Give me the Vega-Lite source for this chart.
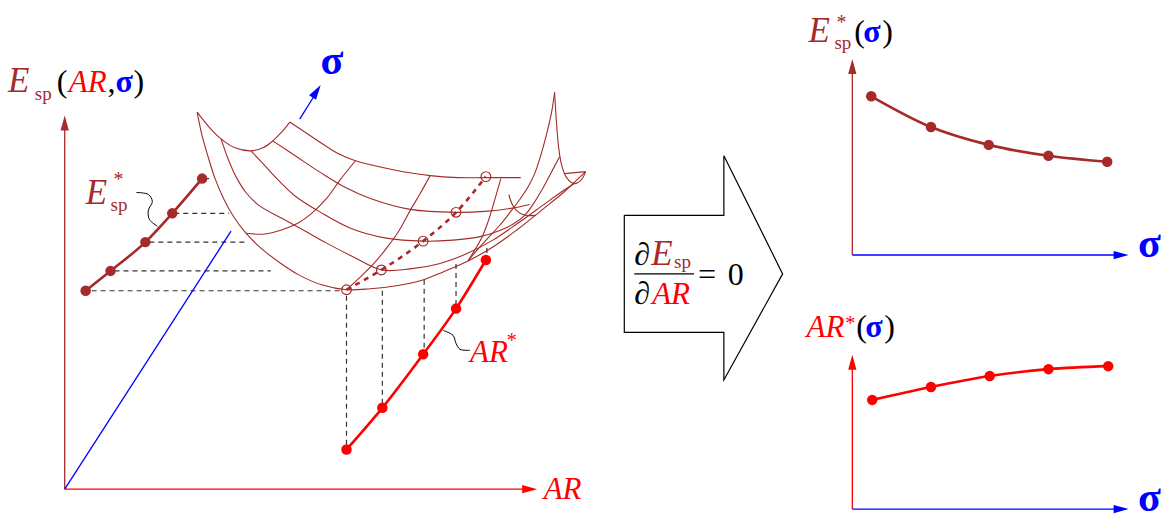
{
  "$schema": "https://vega.github.io/schema/vega-lite/v6.json",
  "width": 1161,
  "height": 519,
  "padding": 0,
  "autosize": {"type": "fit", "contains": "padding"},
  "background": "white",
  "config": {"view": {"stroke": null}},
  "datasets": {
    "axes": [
      {"id": "lv", "var": "E", "k": 1, "x": 65, "y": 493}, {"id": "lv", "var": "E", "k": 2, "x": 65, "y": 130},
      {"id": "lh", "var": "AR", "k": 1, "x": 65, "y": 493}, {"id": "lh", "var": "AR", "k": 2, "x": 526, "y": 493},
      {"id": "ld", "var": "sigma", "k": 1, "x": 65, "y": 493}, {"id": "ld", "var": "sigma", "k": 2, "x": 232, "y": 233},
      {"id": "sa", "var": "sigma", "k": 1, "x": 301, "y": 120}, {"id": "sa", "var": "sigma", "k": 2, "x": 316, "y": 96},
      {"id": "tv", "var": "E", "k": 1, "x": 856, "y": 257}, {"id": "tv", "var": "E", "k": 2, "x": 856, "y": 72},
      {"id": "th", "var": "sigma", "k": 1, "x": 856, "y": 257}, {"id": "th", "var": "sigma", "k": 2, "x": 1120, "y": 257},
      {"id": "bv", "var": "AR", "k": 1, "x": 856, "y": 513}, {"id": "bv", "var": "AR", "k": 2, "x": 856, "y": 370},
      {"id": "bh", "var": "sigma", "k": 1, "x": 856, "y": 513}, {"id": "bh", "var": "sigma", "k": 2, "x": 1120, "y": 513}
    ],
    "heads": [
      {"var": "E", "x": 65, "y": 124, "dir": 0},
      {"var": "AR", "x": 532, "y": 493, "dir": 90},
      {"var": "sigma", "x": 318, "y": 92, "dir": 33},
      {"var": "E", "x": 856, "y": 67, "dir": 0},
      {"var": "sigma", "x": 1126, "y": 257, "dir": 90},
      {"var": "AR", "x": 856, "y": 365, "dir": 0},
      {"var": "sigma", "x": 1126, "y": 513, "dir": 90}
    ],
    "surface": [
      {"id": "P0", "k": 1, "x": 198, "y": 113}, {"id": "P0", "k": 2, "x": 203, "y": 137}, {"id": "P0", "k": 3, "x": 209, "y": 158}, {"id": "P0", "k": 4, "x": 216, "y": 180}, {"id": "P0", "k": 5, "x": 225, "y": 201}, {"id": "P0", "k": 6, "x": 235, "y": 219}, {"id": "P0", "k": 7, "x": 247, "y": 235}, {"id": "P0", "k": 8, "x": 262, "y": 250}, {"id": "P0", "k": 9, "x": 280, "y": 264}, {"id": "P0", "k": 10, "x": 300, "y": 277}, {"id": "P0", "k": 11, "x": 323, "y": 287}, {"id": "P0", "k": 12, "x": 348, "y": 292}, {"id": "P0", "k": 13, "x": 372, "y": 291}, {"id": "P0", "k": 14, "x": 398, "y": 288}, {"id": "P0", "k": 15, "x": 422, "y": 283}, {"id": "P0", "k": 16, "x": 445, "y": 274}, {"id": "P0", "k": 17, "x": 470, "y": 263}, {"id": "P0", "k": 18, "x": 495, "y": 249}, {"id": "P0", "k": 19, "x": 520, "y": 231}, {"id": "P0", "k": 20, "x": 545, "y": 211}, {"id": "P0", "k": 21, "x": 567, "y": 193}, {"id": "P0", "k": 22, "x": 588, "y": 173},
      {"id": "P1", "k": 1, "x": 222, "y": 140}, {"id": "P1", "k": 2, "x": 229, "y": 160}, {"id": "P1", "k": 3, "x": 237, "y": 178}, {"id": "P1", "k": 4, "x": 247, "y": 194}, {"id": "P1", "k": 5, "x": 260, "y": 207}, {"id": "P1", "k": 6, "x": 283, "y": 220}, {"id": "P1", "k": 7, "x": 305, "y": 232}, {"id": "P1", "k": 8, "x": 328, "y": 245}, {"id": "P1", "k": 9, "x": 355, "y": 259}, {"id": "P1", "k": 10, "x": 383, "y": 272}, {"id": "P1", "k": 11, "x": 412, "y": 271}, {"id": "P1", "k": 12, "x": 440, "y": 266}, {"id": "P1", "k": 13, "x": 468, "y": 256}, {"id": "P1", "k": 14, "x": 495, "y": 242}, {"id": "P1", "k": 15, "x": 520, "y": 225}, {"id": "P1", "k": 16, "x": 545, "y": 207}, {"id": "P1", "k": 17, "x": 563, "y": 194}, {"id": "P1", "k": 18, "x": 577, "y": 185},
      {"id": "P2", "k": 1, "x": 252, "y": 152}, {"id": "P2", "k": 2, "x": 266, "y": 167}, {"id": "P2", "k": 3, "x": 281, "y": 183}, {"id": "P2", "k": 4, "x": 297, "y": 198}, {"id": "P2", "k": 5, "x": 322, "y": 214}, {"id": "P2", "k": 6, "x": 352, "y": 230}, {"id": "P2", "k": 7, "x": 388, "y": 240}, {"id": "P2", "k": 8, "x": 425, "y": 243}, {"id": "P2", "k": 9, "x": 455, "y": 242}, {"id": "P2", "k": 10, "x": 480, "y": 239}, {"id": "P2", "k": 11, "x": 500, "y": 233}, {"id": "P2", "k": 12, "x": 515, "y": 226}, {"id": "P2", "k": 13, "x": 527, "y": 217}, {"id": "P2", "k": 14, "x": 536, "y": 205}, {"id": "P2", "k": 15, "x": 545, "y": 190}, {"id": "P2", "k": 16, "x": 553, "y": 175}, {"id": "P2", "k": 17, "x": 562, "y": 158},
      {"id": "P3", "k": 1, "x": 274, "y": 142}, {"id": "P3", "k": 2, "x": 298, "y": 158}, {"id": "P3", "k": 3, "x": 322, "y": 174}, {"id": "P3", "k": 4, "x": 345, "y": 188}, {"id": "P3", "k": 5, "x": 372, "y": 200}, {"id": "P3", "k": 6, "x": 412, "y": 211}, {"id": "P3", "k": 7, "x": 458, "y": 214}, {"id": "P3", "k": 8, "x": 487, "y": 213}, {"id": "P3", "k": 9, "x": 513, "y": 210}, {"id": "P3", "k": 10, "x": 532, "y": 206},
      {"id": "P4", "k": 1, "x": 291, "y": 123}, {"id": "P4", "k": 2, "x": 315, "y": 139}, {"id": "P4", "k": 3, "x": 340, "y": 155}, {"id": "P4", "k": 4, "x": 357, "y": 162}, {"id": "P4", "k": 5, "x": 395, "y": 171}, {"id": "P4", "k": 6, "x": 432, "y": 177}, {"id": "P4", "k": 7, "x": 460, "y": 179}, {"id": "P4", "k": 8, "x": 488, "y": 179}, {"id": "P4", "k": 9, "x": 523, "y": 179},
      {"id": "P4t", "k": 1, "x": 567, "y": 175}, {"id": "P4t", "k": 2, "x": 588, "y": 173},
      {"id": "VE", "k": 1, "x": 198, "y": 113}, {"id": "VE", "k": 2, "x": 210, "y": 128}, {"id": "VE", "k": 3, "x": 222, "y": 140}, {"id": "VE", "k": 4, "x": 236, "y": 149}, {"id": "VE", "k": 5, "x": 252, "y": 152}, {"id": "VE", "k": 6, "x": 264, "y": 149}, {"id": "VE", "k": 7, "x": 274, "y": 142}, {"id": "VE", "k": 8, "x": 283, "y": 133}, {"id": "VE", "k": 9, "x": 291, "y": 123},
      {"id": "RE", "k": 1, "x": 557, "y": 93}, {"id": "RE", "k": 2, "x": 559, "y": 125}, {"id": "RE", "k": 3, "x": 561, "y": 148}, {"id": "RE", "k": 4, "x": 564, "y": 166}, {"id": "RE", "k": 5, "x": 569, "y": 179}, {"id": "RE", "k": 6, "x": 577, "y": 185}, {"id": "RE", "k": 7, "x": 584, "y": 181}, {"id": "RE", "k": 8, "x": 588, "y": 173},
      {"id": "C1", "k": 1, "x": 247, "y": 235}, {"id": "C1", "k": 2, "x": 264, "y": 236}, {"id": "C1", "k": 3, "x": 282, "y": 232}, {"id": "C1", "k": 4, "x": 299, "y": 225}, {"id": "C1", "k": 5, "x": 313, "y": 215}, {"id": "C1", "k": 6, "x": 328, "y": 200}, {"id": "C1", "k": 7, "x": 341, "y": 182}, {"id": "C1", "k": 8, "x": 357, "y": 162},
      {"id": "C2", "k": 1, "x": 348, "y": 292}, {"id": "C2", "k": 2, "x": 362, "y": 279}, {"id": "C2", "k": 3, "x": 376, "y": 265}, {"id": "C2", "k": 4, "x": 389, "y": 249}, {"id": "C2", "k": 5, "x": 401, "y": 232}, {"id": "C2", "k": 6, "x": 412, "y": 212}, {"id": "C2", "k": 7, "x": 422, "y": 195}, {"id": "C2", "k": 8, "x": 432, "y": 177},
      {"id": "C3", "k": 1, "x": 470, "y": 263}, {"id": "C3", "k": 2, "x": 478, "y": 250}, {"id": "C3", "k": 3, "x": 485, "y": 237}, {"id": "C3", "k": 4, "x": 491, "y": 221}, {"id": "C3", "k": 5, "x": 497, "y": 201}, {"id": "C3", "k": 6, "x": 503, "y": 180},
      {"id": "PK", "k": 1, "x": 470, "y": 263}, {"id": "PK", "k": 2, "x": 480, "y": 251}, {"id": "PK", "k": 3, "x": 490, "y": 240}, {"id": "PK", "k": 4, "x": 502, "y": 227}, {"id": "PK", "k": 5, "x": 513, "y": 213}, {"id": "PK", "k": 6, "x": 522, "y": 201}, {"id": "PK", "k": 7, "x": 530, "y": 189}, {"id": "PK", "k": 8, "x": 537, "y": 175}, {"id": "PK", "k": 9, "x": 543, "y": 157}, {"id": "PK", "k": 10, "x": 549, "y": 135}, {"id": "PK", "k": 11, "x": 554, "y": 113}, {"id": "PK", "k": 12, "x": 557, "y": 93},
      {"id": "HK", "k": 1, "x": 511, "y": 196}, {"id": "HK", "k": 2, "x": 515, "y": 207}, {"id": "HK", "k": 3, "x": 521, "y": 214}, {"id": "HK", "k": 4, "x": 528, "y": 217}, {"id": "HK", "k": 5, "x": 538, "y": 217}
    ],
    "guides": [
      {"id": "H1", "k": 1, "x": 205, "y": 180}, {"id": "H1", "k": 2, "x": 213, "y": 180},
      {"id": "H2", "k": 1, "x": 175, "y": 215}, {"id": "H2", "k": 2, "x": 230, "y": 215},
      {"id": "H3", "k": 1, "x": 150, "y": 244}, {"id": "H3", "k": 2, "x": 248, "y": 244},
      {"id": "H4", "k": 1, "x": 115, "y": 273}, {"id": "H4", "k": 2, "x": 272, "y": 273},
      {"id": "H5", "k": 1, "x": 92, "y": 293}, {"id": "H5", "k": 2, "x": 345, "y": 293},
      {"id": "V1", "k": 1, "x": 348, "y": 298}, {"id": "V1", "k": 2, "x": 348, "y": 450},
      {"id": "V2", "k": 1, "x": 384, "y": 293}, {"id": "V2", "k": 2, "x": 384, "y": 408},
      {"id": "V3", "k": 1, "x": 426, "y": 282}, {"id": "V3", "k": 2, "x": 426, "y": 354},
      {"id": "V4", "k": 1, "x": 458, "y": 266}, {"id": "V4", "k": 2, "x": 458, "y": 308},
      {"id": "V5", "k": 1, "x": 489, "y": 250}, {"id": "V5", "k": 2, "x": 489, "y": 258}
    ],
    "valley": [
      {"k": 1, "x": 348, "y": 292}, {"k": 2, "x": 383, "y": 272}, {"k": 3, "x": 425, "y": 243}, {"k": 4, "x": 458, "y": 214}, {"k": 5, "x": 488, "y": 178}
    ],
    "leaders": [
      {"id": "LE", "k": 1, "x": 137, "y": 194}, {"id": "LE", "k": 2, "x": 149, "y": 196}, {"id": "LE", "k": 3, "x": 153, "y": 203}, {"id": "LE", "k": 4, "x": 149, "y": 212}, {"id": "LE", "k": 5, "x": 150, "y": 221}, {"id": "LE", "k": 6, "x": 158, "y": 228},
      {"id": "LA", "k": 1, "x": 445, "y": 333}, {"id": "LA", "k": 2, "x": 455, "y": 338}, {"id": "LA", "k": 3, "x": 458, "y": 346}, {"id": "LA", "k": 4, "x": 462, "y": 352}, {"id": "LA", "k": 5, "x": 472, "y": 353}
    ],
    "series": [
      {"id": "Eleft", "var": "E", "k": 1, "x": 86, "y": 293}, {"id": "Eleft", "var": "E", "k": 2, "x": 111, "y": 273}, {"id": "Eleft", "var": "E", "k": 3, "x": 146, "y": 244}, {"id": "Eleft", "var": "E", "k": 4, "x": 173, "y": 215}, {"id": "Eleft", "var": "E", "k": 5, "x": 203, "y": 180},
      {"id": "ARleft", "var": "AR", "k": 1, "x": 348, "y": 453}, {"id": "ARleft", "var": "AR", "k": 2, "x": 384, "y": 411}, {"id": "ARleft", "var": "AR", "k": 3, "x": 425, "y": 357}, {"id": "ARleft", "var": "AR", "k": 4, "x": 458, "y": 311}, {"id": "ARleft", "var": "AR", "k": 5, "x": 488, "y": 262},
      {"id": "Eright", "var": "E", "k": 1, "x": 875, "y": 97}, {"id": "Eright", "var": "E", "k": 2, "x": 935, "y": 128}, {"id": "Eright", "var": "E", "k": 3, "x": 993, "y": 146}, {"id": "Eright", "var": "E", "k": 4, "x": 1053, "y": 157}, {"id": "Eright", "var": "E", "k": 5, "x": 1112, "y": 163},
      {"id": "ARright", "var": "AR", "k": 1, "x": 876, "y": 403}, {"id": "ARright", "var": "AR", "k": 2, "x": 935, "y": 390}, {"id": "ARright", "var": "AR", "k": 3, "x": 994, "y": 379}, {"id": "ARright", "var": "AR", "k": 4, "x": 1053, "y": 372}, {"id": "ARright", "var": "AR", "k": 5, "x": 1113, "y": 369}
    ],
    "frame": [
      {"id": "box", "k": 1, "x": 627, "y": 217}, {"id": "box", "k": 2, "x": 727, "y": 217}, {"id": "box", "k": 3, "x": 727, "y": 157}, {"id": "box", "k": 4, "x": 786, "y": 276}, {"id": "box", "k": 5, "x": 727, "y": 383}, {"id": "box", "k": 6, "x": 727, "y": 335}, {"id": "box", "k": 7, "x": 627, "y": 335}, {"id": "box", "k": 8, "x": 627, "y": 217},
      {"id": "bar", "k": 1, "x": 637, "y": 276}, {"id": "bar", "k": 2, "x": 697, "y": 276}
    ],
    "italicE": [
      {"t": "E", "var": "E", "x": 8, "y": 93},
      {"t": "E", "var": "E", "x": 86, "y": 206},
      {"t": "E", "var": "E", "x": 812, "y": 42},
      {"t": "E", "var": "E", "x": 654, "y": 267}
    ],
    "italicAR": [
      {"t": "AR", "var": "AR", "x": 69, "y": 93},
      {"t": "AR", "var": "AR", "x": 472, "y": 365},
      {"t": "AR", "var": "AR", "x": 546, "y": 503},
      {"t": "AR", "var": "AR", "x": 810, "y": 340},
      {"t": "AR", "var": "AR", "x": 655, "y": 306}
    ],
    "roman": [
      {"t": "(", "var": "ink", "x": 57, "y": 93},
      {"t": ",", "var": "ink", "x": 108, "y": 93},
      {"t": ")", "var": "ink", "x": 134, "y": 93},
      {"t": "(", "var": "ink", "x": 858, "y": 42},
      {"t": ")", "var": "ink", "x": 886, "y": 42},
      {"t": "(", "var": "ink", "x": 860, "y": 340},
      {"t": ")", "var": "ink", "x": 888, "y": 340},
      {"t": "∂", "var": "ink", "x": 637, "y": 267},
      {"t": "∂", "var": "ink", "x": 637, "y": 306},
      {"t": "=", "var": "ink", "x": 701, "y": 287},
      {"t": "0", "var": "ink", "x": 731, "y": 287}
    ],
    "sigmaInline": [
      {"t": "σ", "var": "sigma", "x": 116, "y": 93},
      {"t": "σ", "var": "sigma", "x": 867, "y": 42},
      {"t": "σ", "var": "sigma", "x": 869, "y": 340}
    ],
    "sigmaAxis": [
      {"t": "σ", "var": "sigma", "x": 322, "y": 75},
      {"t": "σ", "var": "sigma", "x": 1143, "y": 259},
      {"t": "σ", "var": "sigma", "x": 1143, "y": 515}
    ],
    "subs": [
      {"t": "sp", "var": "E", "x": 35, "y": 101},
      {"t": "sp", "var": "E", "x": 111, "y": 213},
      {"t": "sp", "var": "E", "x": 838, "y": 49},
      {"t": "sp", "var": "E", "x": 677, "y": 270}
    ],
    "sups": [
      {"t": "*", "var": "E", "x": 114, "y": 187},
      {"t": "*", "var": "E", "x": 840, "y": 29},
      {"t": "*", "var": "AR", "x": 509, "y": 350},
      {"t": "*", "var": "AR", "x": 849, "y": 333}
    ]
  },
  "encoding": {
    "x": {"field": "x", "type": "quantitative", "scale": {"domain": [0, 1161], "nice": false, "zero": false}, "axis": null},
    "y": {"field": "y", "type": "quantitative", "scale": {"domain": [0, 519], "reverse": true, "nice": false, "zero": false}, "axis": null}
  },
  "layer": [
    {
      "data": {"name": "surface"},
      "mark": {"type": "line", "stroke": "#a52a2a", "strokeWidth": 1.1, "interpolate": "catmull-rom"},
      "encoding": {"detail": {"field": "id"}, "order": {"field": "k"}}
    },
    {
      "data": {"name": "guides"},
      "mark": {"type": "line", "stroke": "#333333", "strokeWidth": 1.2, "strokeDash": [5, 4]},
      "encoding": {"detail": {"field": "id"}, "order": {"field": "k"}}
    },
    {
      "data": {"name": "axes"},
      "mark": {"type": "line", "strokeWidth": 1.3},
      "encoding": {
        "detail": {"field": "id"}, "order": {"field": "k"},
        "color": {"field": "var", "type": "nominal", "scale": {"domain": ["E", "AR", "sigma", "ink"], "range": ["#a52a2a", "#ff0000", "#0000ff", "#000000"]}, "legend": null}
      }
    },
    {
      "data": {"name": "heads"},
      "mark": {"type": "point", "shape": "M0,-1L0.55,1L-0.55,1Z", "filled": true, "size": 225, "opacity": 1},
      "encoding": {
        "angle": {"field": "dir", "type": "quantitative", "scale": null},
        "color": {"field": "var", "type": "nominal", "legend": null}
      }
    },
    {
      "data": {"name": "valley"},
      "mark": {"type": "line", "stroke": "#a52a2a", "strokeWidth": 2.6, "strokeDash": [5, 5], "interpolate": "monotone"},
      "encoding": {"order": {"field": "k"}}
    },
    {
      "data": {"name": "valley"},
      "mark": {"type": "point", "shape": "circle", "size": 95, "filled": false, "stroke": "#a52a2a", "strokeWidth": 1.2, "opacity": 1}
    },
    {
      "data": {"name": "leaders"},
      "mark": {"type": "line", "stroke": "#000000", "strokeWidth": 1, "interpolate": "catmull-rom"},
      "encoding": {"detail": {"field": "id"}, "order": {"field": "k"}}
    },
    {
      "data": {"name": "series"},
      "mark": {"type": "line", "strokeWidth": 2.6, "interpolate": "monotone"},
      "encoding": {
        "detail": {"field": "id"}, "order": {"field": "k"},
        "color": {"field": "var", "type": "nominal", "legend": null}
      }
    },
    {
      "data": {"name": "series"},
      "mark": {"type": "point", "shape": "circle", "filled": true, "size": 110, "opacity": 1},
      "encoding": {"color": {"field": "var", "type": "nominal", "legend": null}}
    },
    {
      "data": {"name": "frame"},
      "mark": {"type": "line", "stroke": "#000000", "strokeWidth": 1.2},
      "encoding": {"detail": {"field": "id"}, "order": {"field": "k"}}
    },
    {
      "data": {"name": "italicE"},
      "mark": {"type": "text", "font": "Liberation Serif", "fontSize": 35, "fontStyle": "italic", "align": "left", "baseline": "alphabetic"},
      "encoding": {"text": {"field": "t"}, "color": {"field": "var", "type": "nominal", "legend": null}}
    },
    {
      "data": {"name": "italicAR"},
      "mark": {"type": "text", "font": "Liberation Serif", "fontSize": 31, "fontStyle": "italic", "align": "left", "baseline": "alphabetic"},
      "encoding": {"text": {"field": "t"}, "color": {"field": "var", "type": "nominal", "legend": null}}
    },
    {
      "data": {"name": "roman"},
      "mark": {"type": "text", "font": "Liberation Serif", "fontSize": 32, "align": "left", "baseline": "alphabetic"},
      "encoding": {"text": {"field": "t"}, "color": {"field": "var", "type": "nominal", "legend": null}}
    },
    {
      "data": {"name": "sigmaInline"},
      "mark": {"type": "text", "font": "Liberation Serif", "fontSize": 32, "fontWeight": "bold", "align": "left", "baseline": "alphabetic"},
      "encoding": {"text": {"field": "t"}, "color": {"field": "var", "type": "nominal", "legend": null}}
    },
    {
      "data": {"name": "sigmaAxis"},
      "mark": {"type": "text", "font": "Liberation Serif", "fontSize": 42, "fontWeight": "bold", "align": "left", "baseline": "alphabetic"},
      "encoding": {"text": {"field": "t"}, "color": {"field": "var", "type": "nominal", "legend": null}}
    },
    {
      "data": {"name": "subs"},
      "mark": {"type": "text", "font": "Liberation Serif", "fontSize": 19, "align": "left", "baseline": "alphabetic"},
      "encoding": {"text": {"field": "t"}, "color": {"field": "var", "type": "nominal", "legend": null}}
    },
    {
      "data": {"name": "sups"},
      "mark": {"type": "text", "font": "Liberation Serif", "fontSize": 20, "align": "left", "baseline": "alphabetic"},
      "encoding": {"text": {"field": "t"}, "color": {"field": "var", "type": "nominal", "legend": null}}
    }
  ]
}
